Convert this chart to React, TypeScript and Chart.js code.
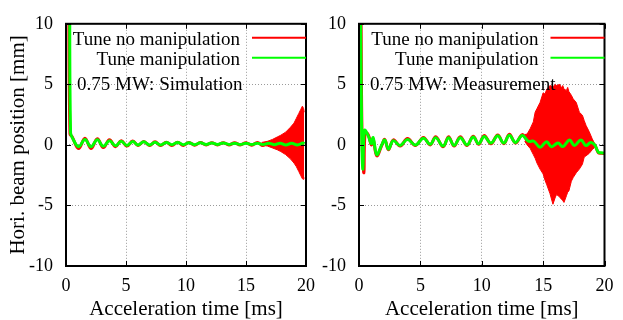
import React, { useEffect, useRef } from "react";
import { Chart, registerables } from "chart.js";

Chart.register(...registerables);

type P = [number, number];
type E = [number, number, number];

const xTicks = [0, 5, 10, 15, 20];
const yTicks = [-10, -5, 0, 5, 10];
const seriesNames = ["Tune no manipulation", "Tune manipulation"];
const panelLabels = ["0.75 MW: Simulation", "0.75 MW: Measurement"];
const xTitle = "Acceleration time [ms]";
const yTitle = "Hori. beam position [mm]";

// Simulation panel: [time ms, position mm]
const simRed: P[] = [
  [0.22, 14], [0.33, 0.9], [0.5, 0.7], [1.05, -0.3], [1.58, 0.55], [2.08, -0.3],
  [2.61, 0.5], [3.11, -0.22], [3.62, 0.42], [4.12, -0.15], [4.6, 0.35], [5.08, -0.1],
  [5.56, 0.32], [6.0, -0.05], [6.48, 0.28], [6.96, -0.05], [7.42, 0.25], [7.88, -0.05],
  [8.36, 0.22], [8.82, -0.04], [9.3, 0.22], [9.78, -0.04], [10.25, 0.2], [10.72, -0.02],
  [11.2, 0.2], [11.68, 0.0], [12.15, 0.18], [12.62, 0.0], [13.1, 0.18], [13.58, 0.0],
  [14.05, 0.17], [14.52, 0.0], [15.0, 0.18], [15.48, -0.02], [15.95, 0.2], [16.42, -0.05],
  [16.9, 0.2], [17.38, -0.05], [17.85, 0.15], [18.32, 0.0], [18.8, 0.1], [19.28, 0.0],
  [19.85, 0.05],
];
const simGreen: P[] = [
  [0.3, 14], [0.38, 1.0], [0.55, 0.55], [1.05, -0.15], [1.58, 0.45], [2.08, -0.15],
  [2.61, 0.42], [3.11, -0.12], [3.62, 0.35], [4.12, -0.08], [4.6, 0.3], [5.08, -0.05],
  [5.56, 0.28], [6.0, 0.0], [6.48, 0.25], [6.96, 0.0], [7.42, 0.22], [7.88, 0.0],
  [8.36, 0.2], [8.82, 0.02], [9.3, 0.2], [9.78, 0.02], [10.25, 0.18], [10.72, 0.02],
  [11.2, 0.18], [11.68, 0.04], [12.15, 0.16], [12.62, 0.04], [13.1, 0.16], [13.58, 0.04],
  [14.05, 0.14], [14.52, 0.04], [15.0, 0.14], [15.48, 0.04], [15.95, 0.14], [16.42, 0.04],
  [16.9, 0.14], [17.38, 0.02], [17.85, 0.14], [18.32, 0.0], [18.8, 0.14], [19.28, 0.0],
  [19.75, 0.15], [19.88, 0.1],
];
// [time, upper, lower] of the fast red oscillation
const simRedEnv: E[] = [
  [16.3, 0.2, 0.0], [16.8, 0.3, -0.1], [17.2, 0.45, -0.25], [17.6, 0.65, -0.4],
  [17.9, 0.8, -0.55], [18.3, 1.05, -0.8], [18.7, 1.45, -1.15], [19.0, 1.8, -1.5],
  [19.2, 2.2, -1.8], [19.4, 2.6, -2.2], [19.55, 2.9, -2.5], [19.7, 3.2, -2.8],
  [19.8, 3.0, -2.85], [19.85, 2.7, -2.7],
];

// Measurement panel
const measRed: P[] = [
  [0.15, 14], [0.25, 0.5], [0.4, -2.3], [0.5, 1.0], [0.75, 0.85], [1.0, 0.0],
  [1.15, 0.5], [1.45, -0.9], [1.85, -0.05], [2.1, 0.45], [2.4, -0.4], [2.8, 0.42],
  [3.35, -0.1], [3.95, 0.52], [4.6, -0.05], [5.25, 0.62], [5.8, 0.0], [6.25, 0.68],
  [6.85, -0.15], [7.3, 0.68], [7.75, -0.1], [8.25, 0.68], [8.8, -0.05], [9.3, 0.72],
  [9.75, 0.05], [10.2, 0.78], [10.75, 0.1], [11.3, 0.82], [11.8, 0.1], [12.25, 0.88],
  [12.75, 0.15], [13.3, 0.85], [13.7, 0.4], [14.25, 0.3], [14.75, -0.2], [15.28, 0.27],
  [15.68, -0.15], [16.21, 0.15], [16.61, -0.14], [17.15, 0.4], [17.55, -0.05], [18.08, 0.41],
  [18.48, -0.05], [18.88, 0.2], [19.2, 0.0], [19.5, -0.65], [19.75, -0.7], [20.0, -0.72],
];
const measGreen: P[] = [
  [0.1, 14], [0.22, 0.8], [0.32, -2.0], [0.45, 1.2], [0.75, 0.75], [1.0, 0.1],
  [1.15, 0.6], [1.45, -0.8], [1.85, 0.0], [2.1, 0.4], [2.4, -0.35], [2.8, 0.35],
  [3.35, -0.05], [3.95, 0.45], [4.6, 0.0], [5.25, 0.55], [5.8, 0.05], [6.25, 0.6],
  [6.85, -0.1], [7.3, 0.6], [7.75, -0.05], [8.25, 0.6], [8.8, 0.0], [9.3, 0.65],
  [9.75, 0.1], [10.2, 0.7], [10.75, 0.15], [11.3, 0.75], [11.8, 0.15], [12.25, 0.8],
  [12.75, 0.2], [13.3, 0.78], [13.8, 0.3], [14.25, 0.3], [14.75, -0.2], [15.28, 0.27],
  [15.68, -0.15], [16.21, 0.15], [16.61, -0.14], [17.15, 0.4], [17.55, -0.05], [18.08, 0.41],
  [18.48, -0.05], [18.88, 0.2], [19.2, 0.0], [19.5, -0.6], [19.75, -0.65], [20.0, -0.68],
];
const measRedEnv: E[] = [
  [13.5, 0.85, 0.3], [13.7, 0.9, 0.0], [13.95, 1.35, -0.3], [14.2, 1.9, -0.8],
  [14.35, 2.7, -1.1], [14.5, 3.0, -1.5], [14.75, 3.5, -2.0], [15.0, 4.3, -2.4],
  [15.15, 4.2, -2.9], [15.3, 4.6, -3.3], [15.55, 4.9, -4.0], [15.8, 4.8, -4.9],
  [16.0, 5.0, -4.3], [16.1, 4.9, -4.1], [16.35, 5.0, -4.3], [16.5, 4.7, -4.5],
  [16.6, 4.9, -4.6], [16.7, 4.6, -4.75], [16.9, 4.5, -4.2], [17.0, 4.75, -3.9],
  [17.1, 4.4, -3.8], [17.3, 4.1, -3.0], [17.45, 3.8, -2.7], [17.7, 3.5, -2.3],
  [17.95, 2.7, -2.0], [18.2, 2.45, -1.6], [18.35, 2.0, -1.0], [18.5, 1.6, -0.9],
  [18.75, 1.1, -0.7], [19.0, 0.5, -0.4], [19.2, 0.1, -0.2],
];

const RED = "#ff0000";
const GREEN = "#00ff00";
const FONT = "'Liberation Serif', 'Times New Roman', serif";
const W = 623;
const H = 330;

const panels = [
  { red: simRed, green: simGreen, env: simRedEnv, left: 66, right: 306, yWidth: 66, showYTitle: true },
  { red: measRed, green: measGreen, env: measRedEnv, left: 359, right: 609, yWidth: 48, showYTitle: false },
];

function framePlugin(p: number) {
  return {
    id: "frame" + p,
    afterDraw(chart: any) {
      const ctx = chart.ctx as CanvasRenderingContext2D;
      const { left, right, top, bottom } = chart.chartArea;
      const xs = chart.scales.x;
      const ys = chart.scales.y;
      ctx.save();
      ctx.strokeStyle = "#000";
      ctx.lineWidth = 1;
      ctx.beginPath();
      xTicks.forEach((v) => {
        const px = Math.round(xs.getPixelForValue(v)) + 0.5;
        ctx.moveTo(px, bottom);
        ctx.lineTo(px, bottom - 5);
        ctx.moveTo(px, top);
        ctx.lineTo(px, top + 5);
      });
      yTicks.forEach((v) => {
        const py = Math.round(ys.getPixelForValue(v)) + 0.5;
        ctx.moveTo(left, py);
        ctx.lineTo(left + 5, py);
        ctx.moveTo(right, py);
        ctx.lineTo(right - 5, py);
      });
      ctx.stroke();
      ctx.lineWidth = 2;
      ctx.strokeRect(left, top, right - left, bottom - top);

      // key
      ctx.fillStyle = "#000";
      ctx.font = "19px " + FONT;
      ctx.textBaseline = "alphabetic";
      ctx.textAlign = "right";
      ctx.fillText(seriesNames[0], right - 66, top + 21);
      ctx.fillText(seriesNames[1], right - 66, top + 41);
      ctx.lineWidth = 2;
      ctx.strokeStyle = RED;
      ctx.beginPath();
      ctx.moveTo(right - 54, top + 14);
      ctx.lineTo(right, top + 14);
      ctx.stroke();
      ctx.strokeStyle = GREEN;
      ctx.beginPath();
      ctx.moveTo(right - 54, top + 34);
      ctx.lineTo(right, top + 34);
      ctx.stroke();
      ctx.textAlign = "left";
      ctx.fillText(panelLabels[p], left + 11, top + 66.5);
      ctx.restore();
    },
  };
}

function makeConfig(p: number): any {
  const pn = panels[p];
  const gridColor = (edgeA: number, edgeB: number) => (c: any) =>
    c.tick && (c.tick.value === edgeA || c.tick.value === edgeB) ? "rgba(0,0,0,0)" : "#9a9a9a";
  return {
    type: "line",
    data: {
      datasets: [
        {
          label: seriesNames[1],
          data: pn.green.map(([x, y]) => ({ x, y })),
          borderColor: GREEN,
          borderWidth: 3,
          pointRadius: 0,
          tension: 0.4,
          fill: false,
          order: 0,
        },
        {
          label: seriesNames[0],
          data: pn.red.map(([x, y]) => ({ x, y })),
          borderColor: RED,
          borderWidth: 3,
          pointRadius: 0,
          tension: 0.4,
          fill: false,
          order: 1,
        },
        {
          label: "envelope upper",
          data: pn.env.map(([x, u]) => ({ x, y: u })),
          borderColor: RED,
          backgroundColor: RED,
          borderWidth: 1,
          pointRadius: 0,
          tension: 0,
          fill: "+1",
          order: 2,
        },
        {
          label: "envelope lower",
          data: pn.env.map(([x, , l]) => ({ x, y: l })),
          borderColor: RED,
          borderWidth: 1,
          pointRadius: 0,
          tension: 0,
          fill: false,
          order: 3,
        },
      ],
    },
    options: {
      responsive: false,
      animation: false,
      events: [],
      layout: { padding: { left: pn.left - pn.yWidth, right: W - pn.right, top: 21, bottom: 0 } },
      plugins: { legend: { display: false }, tooltip: { enabled: false } },
      scales: {
        x: {
          type: "linear",
          min: 0,
          max: 20,
          ticks: {
            stepSize: 5,
            autoSkip: false,
            maxRotation: 0,
            color: "#000",
            font: { family: FONT, size: 18 },
            padding: 9.5,
          },
          grid: { color: gridColor(0, 20), drawTicks: false, lineWidth: 1 },
          border: { display: false, dash: [1, 2] },
          title: {
            display: true,
            text: xTitle,
            color: "#000",
            font: { family: FONT, size: 21 },
            padding: { top: 0, bottom: 7.8 },
          },
          afterFit: (s: any) => {
            s.height = H - 266;
          },
        },
        y: {
          min: -10,
          max: 10,
          ticks: {
            stepSize: 5,
            autoSkip: false,
            color: "#000",
            font: { family: FONT, size: 18 },
            padding: 13,
          },
          grid: { color: gridColor(-10, 10), drawTicks: false, lineWidth: 1 },
          border: { display: false, dash: [1, 2] },
          title: {
            display: pn.showYTitle,
            text: yTitle,
            color: "#000",
            font: { family: FONT, size: 21 },
            padding: { top: 6, bottom: 0 },
          },
          afterFit: (s: any) => {
            s.width = pn.yWidth;
          },
        },
      },
    },
    plugins: [framePlugin(p)],
  };
}

export default function App() {
  const c1 = useRef<HTMLCanvasElement>(null);
  const c2 = useRef<HTMLCanvasElement>(null);
  useEffect(() => {
    const a = new Chart(c1.current as HTMLCanvasElement, makeConfig(0));
    const b = new Chart(c2.current as HTMLCanvasElement, makeConfig(1));
    return () => {
      a.destroy();
      b.destroy();
    };
  }, []);
  const cs: React.CSSProperties = { position: "absolute", left: 0, top: 0, width: W, height: H };
  return (
    <div
      style={{
        position: "fixed",
        left: 0,
        top: 0,
        width: W,
        height: 320,
        overflow: "hidden",
        background: "#fff",
      }}
    >
      <canvas ref={c1} width={W} height={H} style={cs} />
      <canvas ref={c2} width={W} height={H} style={cs} />
    </div>
  );
}
